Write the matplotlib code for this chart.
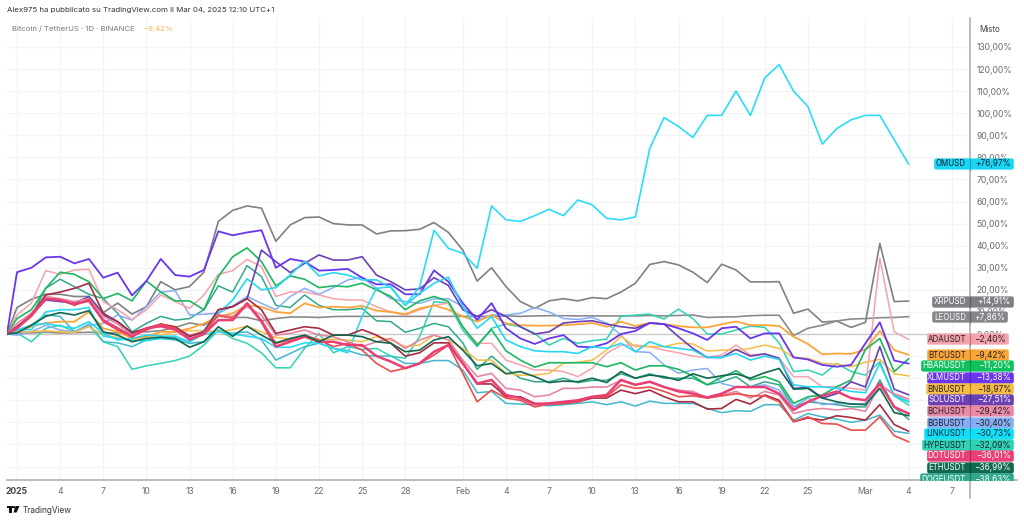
import numpy as np
import matplotlib
matplotlib.use('Agg')
import matplotlib.pyplot as plt
from matplotlib.patches import FancyBboxPatch, Rectangle, Circle, Polygon

plt.rcParams['font.family'] = ['Inter', 'DejaVu Sans']

# first point sits on the left edge of the chart, then one value per day from Jan 1
days = np.r_[-0.7, np.arange(0, 63)]

om = [0, 1.8, 2, 10, 11, 11, 12, -1, -2, -3, -3, -2, -2, -3.5, 0, 1, 0, -1, -2, -6, -6, -4, -4, -6.5,
      -8.5, 8, 20.7, 21.4, 13, 21.4, 47, 38.8, 36.6, 29.8, 58, 51.7, 51, 53.6, 56.5, 53.6, 60.7, 58.5, 52.4, 51.7,
      53, 84, 98, 94, 89, 99, 99, 110, 99, 116, 122, 110, 103, 86, 93, 97, 99, 99, 88, 76.97]
xrp = [0, 12, 15.7, 18, 18, 17, 17, 9.7, 14, 9, 12.4, 23.7, 20, 21.5, 28, 51, 56, 58, 57, 42, 49.4, 52.7, 53, 50,
       49.4, 49.4, 45.3, 46.7, 46.8, 47.4, 50.5, 46, 38, 24, 30, 21.5, 14.7, 11.6, 15, 16, 15, 16.5, 16, 19, 23, 31.5,
       32.8, 31.3, 28, 23.3, 31.6, 29, 23.6, 23.6, 23.7, 9.4, 11.3, 5.4, 5.9, 3, 5.3, 41, 14.7, 14.91]
leo = [0, 0.3, 0.5, 0.8, 0.5, 0.6, 0.8, 0.5, 0.5, 0.8, 1, 1.5, 3, 5, 4, 8, 7.5, 7.5, 6, 7, 7.7, 7.7, 7.5, 7.9,
       8, 8, 8, 8, 8, 8, 8, 8, 8, 8, 8, 8.2, 8, 8.2, 8.3, 8.3, 8.2, 8.2, 8.2, 8.2, 8.2, 8.4,
       8.2, 8.4, 8.6, 7.5, 7.7, 7.8, 8.3, 8.5, 8.5, -0.7, 2.6, 4, 5.9, 6.8, 7, 7.4, 7.5, 7.86]
ada = [0, 8.6, 14, 28.7, 27, 29, 29.3, 14.7, 11, 6.6, 11, 17.7, 14.7, 11.6, 17.7, 27, 28.7, 33.8, 30.5, 17, 19, 19, 17.7, 16,
       15.4, 15.4, 12.4, 10, 8.6, 11, 13, 14, 3.3, -4.2, -4.2, -11.8, -14, -16.3, -16.3, -17, -19.3, -15.5, -8.8, -5, -5, -5.7,
       -7.3, -8.5, -10, -10.6, -9.5, -5, -9.5, -9, -11, -19.3, -19.3, -23.9, -23.9, -24.6, -25.4, 34.3, 1, -2.4]
btc = [0, 1, 3.3, 5, 5.6, 5.6, 10, 2.5, 1, -2, -1.2, 1, 1, 2.5, 4.8, 7.9, 9.4, 13, 12.3, 10, 9.4, 13.9, 12, 12.4,
       12, 12.7, 10.6, 10, 9, 11.6, 13, 11, 8, 5.6, 8.6, 4.8, 4, 3.8, 3.8, 4, 4.4, 5, 3.3, 5.6, 3.6, 5,
       4.5, 3.6, 3, 3, 4.4, 5.7, 4, 4, 3.7, -1.2, -4.5, -9.2, -8.8, -9, -7, 1.4, -7.3, -9.42]
hbar = [0, 7, 11, 20.7, 28, 27, 23.7, 16, 18.4, 15, 24, 19, 15, 15, 11, 26, 35, 39, 32.8, 21.8, 26.3, 24.8, 21, 21.8,
        21.4, 23, 20, 17, 11, 15, 17, 14.7, 3.3, -5, 2, -7.6, -11.8, -15, -13, -13, -13, -13, -14.8, -13, -16.3, -14.4,
        -14.4, -16, -19, -23, -19.6, -16.6, -20.8, -19.3, -21.6, -31.4, -28.4, -27.6, -23.9, -20.8, -7, -2, -17, -11.2]
xlm = [0, 28, 30, 34.7, 35, 32, 34, 25.5, 27.8, 17.5, 24, 34, 26.7, 26, 29, 46.5, 44.7, 46, 47, 30, 34, 32.8, 28.7, 29,
       29.5, 25.5, 22.5, 22.5, 18, 18, 28.8, 23.7, 14, 6.5, 14, 2.6, -2, -4.5, -2, -0.5, -5.7, -6, -4.2, 0, 1.4, 5,
       4.5, 2.6, 0.3, -2.7, 2.6, 3.3, -2, 0.3, 0.3, -10.6, -11.5, -14, -14.8, -14, -4.2, 5.3, -12, -13.38]
bnb = [0, 1, 1, 1.5, 1, 0.7, 3.3, -0.5, -1.5, -2.7, -1.2, -0.5, 1, 1.5, 1.5, 1, 2, 3.6, 1, -1.5, -2.4, -1, -2.4, -2.4,
       -2.7, -3.5, -1.2, -2.7, -5.7, -5, -0.5, -2.7, -6.5, -11.8, -11.8, -17.8, -18.6, -18.6, -17.8, -13.3, -12.8, -11.8, -7.3, -1, -5.7, -5.7,
       -5.7, -4.2, -4.5, -7.7, -7.3, -7.3, -6.5, -5, -6.5, -10.6, -11, -13.3, -13.6, -14.8, -12.8, -11.5, -18, -18.97]
sol = [0, 3.3, 8.6, 15.4, 14.7, 13.9, 17, 8.6, 5.6, 0.3, 2.6, 4, 2.6, -1.2, 1, 11, 12.4, 16, 38, 32.8, 27.8, 32, 35.8, 33.5,
       33.5, 35, 26.7, 23.7, 20, 20.4, 25.5, 22, 11, 8, 11, 8, 3.3, 0, 1, 5, 5.6, 6, 4.5, 3.3, 2.6, 5,
       4.5, -1.2, -6.5, -10.6, -10.6, -7, -10, -9, -11, -24.6, -24.2, -29, -27, -21.6, -24, -5.7, -25, -27.51]
bch = [0, 4.8, 9.4, 17, 16, 14.7, 16, 8, 4.5, -0.5, 2.6, 3.3, 2, -0.5, 1, 8.6, 8, 12.4, 8.6, -0.5, 0.3, 1.8, -0.5, -1.2,
       -3.5, -5.7, -3.5, -2, -6.5, -2.7, -0.5, -2.7, -11.8, -19.3, -17.8, -24.6, -25.4, -28.4, -27.6, -24.6, -24.6, -24, -24, -21, -23, -21.6,
       -24, -25.4, -26, -29, -27.6, -26, -29, -26, -27.6, -36, -34.4, -33.7, -34.4, -33.7, -35, -23, -27, -29.42]
bgb = [0, -0.5, 1, 4, 1.8, 1, 4, 4.8, 8.6, 6.3, 12.4, 19, 19.6, 8.6, 9, 9.4, 12.7, 17, 13.9, 11, 17, 20.7, 18, 21,
       24.5, 25.7, 20.7, 16, 14.7, 13.9, 15.9, 16, 12.4, 6.3, 8.6, 8.6, 9.4, 12, 10, 7, 6.6, 7.5, 5, -0.5, -8, -8.3,
       -14, -17.8, -16.3, -15.6, -22.4, -23.9, -23.9, -23, -25.4, -33, -29, -32, -31.4, -31.7, -31.4, -23, -27.6, -30.4]
link = [0, 1.8, 4, 4.8, 3.6, 2.6, 5.6, 0.3, -2.7, -2, -0.5, -1, -1, -3.5, 1.8, 9.4, 15.4, 25, 20, 21, 26.7, 33, 26.3, 27.8,
        26.7, 24.5, 24.5, 21, 13, 18.4, 23, 25.7, 12.4, 2.6, 7.9, -2.7, -5.7, -7.6, -8, -8, -8.8, -5.7, -6.5, -4.2, -8, -3.5,
        -5.7, -6.5, -7.3, -10.6, -10.6, -8.8, -11.8, -10, -11.5, -23, -23.9, -23.9, -24.6, -26, -26.6, -13.3, -28, -30.73]
hype = [0, 0.5, -3.5, 2.6, 4, 1, 4, -3.5, -5.7, -16, -14.4, -13.3, -12, -10, -5, 1.8, -2, -4.2, -8.5, -15.3, -15.3, -6.5, 0.3, -8.5,
        -5.7, -7, -6.5, -10, -11, -1.2, 14.7, 13.9, 1.8, -5.7, 2.6, 4.5, 3.3, 0.3, -5, -2, -4.2, -3, -2.3, 8, 8.6, 9,
        6.8, 11.3, 7, 0, 0, 1.8, 3.6, 3, -4, -17, -16.3, -18.6, -13.3, -17, -18.6, -12.5, -28, -32.09]
dot = [0, 2.6, 8.6, 16, 15.4, 13.6, 15, 6.3, 2.6, -1.2, 2.6, 3.6, 2, -2.4, 0, 6.3, 6.3, 13.9, 5.6, -5.7, -3.5, -1.2, -3.5, -3.5,
       -5, -5, -10, -12.5, -15.5, -13.3, -8, -5, -13.3, -22.4, -20.8, -27.6, -29, -31.7, -31.4, -30.7, -30, -28.4, -27.6, -20.8, -23, -21.6,
       -24, -26, -27, -28.7, -27, -24, -24, -24, -27, -34.4, -30.7, -28, -26, -29, -30, -22.4, -33, -36.01]
eth = [0, 0.5, 4, 8, 9.7, 8.6, 10.6, 1, -0.5, -3.5, -2, -1.5, -2, -6, -3.5, 3.3, -1, 3.6, -0.5, -4, -2, -0.5, -3.5, -0.5,
       -0.5, -1.2, -3.5, -4.2, -8, -7.3, -2.7, -1.2, -7.3, -14.4, -13.3, -18, -17, -19.3, -22, -21.3, -21.6, -20, -22, -17, -20, -18.6,
       -19.3, -21, -18, -20, -18.9, -18, -20, -17.5, -15.6, -25, -24.6, -29, -30.7, -31.7, -32, -24.6, -35.6, -36.99]
doge = [0, 3.3, 8, 20.7, 24.8, 21.4, 18, 16, 9.4, 1, 4.8, 8, 6.3, 7, 11, 21.8, 19, 31, 26, 13, 12, 17.7, 13, 11,
        11, 11.6, 6, 5.6, 0.8, 2.6, 4.8, 3.3, -4, -16, -10, -15.5, -20, -21.6, -21.6, -20, -22, -21, -21, -18, -20, -18,
        -20, -20, -20, -23, -21.6, -19.3, -23.9, -21.6, -23, -33, -30.7, -31.4, -32, -33, -33, -20.8, -33, -38.63]
red = [0, 2.6, 8, 16, 15.4, 13, 15.7, 5.6, 1.8, -1, 1.8, 4.5, 2.6, -2.7, 0.3, 8.6, 7, 13.9, 6.3, -4.2, -2.7, -0.5, -2.7, -5.7,
       -4.2, -7.3, -13.3, -17, -15.5, -13.3, -9.5, -5, -17.8, -30.7, -25.4, -29, -30, -33, -31.7, -31.4, -30.7, -28.4, -28.4, -23, -24.6, -24,
       -26, -28.4, -28, -29, -28, -27, -28, -28, -30.7, -39.7, -37.5, -40.5, -40.8, -43.5, -43.5, -37.5, -46, -48.8]
maroon = [0, 3.3, 8.6, 17.7, 19, 20.7, 23, 9.4, 5.6, 0.6, 2.6, 4.5, 3.3, -1, 1, 11, 12.4, 16, 11, 0.3, 1.8, 3.3, 2.6, -0.5,
          -0.5, 2, -0.5, -4.2, -10, -8.5, -4, -4, -13.3, -22.6, -22.6, -28.4, -28.4, -31.4, -31.7, -31.4, -30.7, -29, -29, -25.4, -27, -25.4,
          -28.4, -30.7, -30.7, -34, -33.7, -29.6, -31.7, -27.6, -30, -39.7, -38, -39, -37, -37.8, -39, -32, -41, -44]
steel = [0, 1, 4, 8.6, 8, 1, 4.5, -3.5, -4, -5.7, -2.7, -2, -2.7, -4.2, -3.5, 1.8, 0.3, 1, -2.7, -11.8, -8.8, -5.7, -4.2, -6.5,
         -7.5, -9.5, -10, -10, -13.3, -13.3, -12, -12, -16.3, -26.6, -26, -31.4, -31.7, -32, -32.5, -32, -31.4, -30.7, -32, -30.7, -32.6, -30.4,
         -31.4, -31.4, -31.4, -33.7, -35.6, -34.7, -35, -32, -32, -39, -36, -37.5, -38.5, -40, -39, -36.7, -44, -45]

series = [
    (xrp, '#808080', 1.2), (leo, '#8a8a8a', 1.2), (steel, '#3fb8cc', 1.1), (doge, '#2fa98c', 1.1),
    (hype, '#2fd3b3', 1.1), (bgb, '#86aef5', 1.1), (ada, '#f5a3ab', 1.1), (bnb, '#f7bc45', 1.1),
    (btc, '#f9a53a', 1.3), (hbar, '#1cb761', 1.2), (sol, '#6a41b5', 1.2), (xlm, '#6a35ef', 1.3),
    (link, '#25d7f0', 1.2), (om, '#2bdcf5', 1.2), (bch, '#e586a3', 1.2), (maroon, '#a62c40', 1.2),
    (red, '#ef4b4b', 1.2), (dot, '#ea3f74', 1.8), (eth, '#10684f', 1.2),
]

tick_days = [0, 3, 6, 9, 12, 15, 18, 21, 24, 27, 31, 34, 37, 40, 43, 46, 49, 52, 55, 59, 62, 65]
tick_labels = ['2025', '4', '7', '10', '13', '16', '19', '22', '25', '28', 'Feb', '4', '7', '10', '13', '16', '19', '22', '25', 'Mar', '4', '7']
pct_ticks = list(range(-60, 140, 10))

tag_names = ['OMUSD', 'XRPUSD', 'LEOUSD', 'ADAUSDT', 'BTCUSDT', 'HBARUSDT', 'XLMUSDT', 'BNBUSDT', 'SOLUSDT',
             'BCHUSDT', 'BGBUSDT', 'LINKUSDT', 'HYPEUSDT', 'DOTUSDT', 'ETHUSDT', 'DOGEUSDT']
tag_values = ['+76,97%', '+14,91%', '+7,86%', '−2,40%', '−9,42%', '−11,20%', '−13,38%', '−18,97%', '−27,51%',
              '−29,42%', '−30,40%', '−30,73%', '−32,09%', '−36,01%', '−36,99%', '−38,63%']
tag_colors = ['#19d6f2', '#7f7f86', '#85858a', '#f5a3ab', '#f9a53a', '#0fc15c', '#6a35ef', '#f7bc45', '#6a41b5',
              '#e98aa6', '#86aef5', '#0fe0f8', '#2fd3b3', '#ea3f74', '#10684f', '#2fa98c']
tag_text = ['#123', 'w', 'w', '#222', '#222', 'w', 'w', '#222', 'w', '#222', '#222', '#123', '#123', 'w', 'w', 'w']
tag_left = [934, 932, 932, 927, 927, 921, 927, 926, 928, 927, 927, 924, 922, 927, 927, 920]
tag_right = [1014, 1014, 1008, 1009, 1009, 1014, 1014, 1014, 1014, 1014, 1014, 1014, 1014, 1014, 1014, 1014]
tag_y = [164, 302, 317, 339, 355, 366, 378, 389, 400, 411, 423, 434, 445, 456, 468, 479]

fig = plt.figure(figsize=(10.24, 5.22), dpi=100, facecolor='white')
ax = fig.add_axes([7 / 1024, 1 - 480 / 522, 963 / 1024, 462 / 522])
ax.set_xlim(-0.695, 66.27)
ax.set_ylim(-66.1, 143.1)

for values, color, lw in series:
    ax.plot(days, values, color=color, lw=lw, solid_joinstyle='round', zorder=3)

ax.axhline(0, color='#c9c9c9', lw=0.9, zorder=2)
ax.set_xticks(tick_days)
ax.set_xticklabels(tick_labels)
ax.set_yticks(pct_ticks)
ax.set_yticklabels([f'{t},00%' if t >= 0 else '' for t in pct_ticks])
ax.yaxis.tick_right()
ax.grid(True, color='#f1f3f7', lw=0.9, zorder=0)
ax.tick_params(axis='both', length=0, labelsize=6.2, labelcolor='#6a6a6a')
ax.tick_params(axis='x', pad=5)
ax.tick_params(axis='y', pad=4.5)
ax.get_xticklabels()[0].set_fontweight('bold')
ax.get_xticklabels()[0].set_color('#444444')
for side in ['top', 'left', 'right', 'bottom']:
    ax.spines[side].set_visible(False)

# page furniture and price tags, in pixel coordinates
ov = fig.add_axes([0, 0, 1, 1], facecolor='none')
ov.set_xlim(0, 1024)
ov.set_ylim(522, 0)
ov.axis('off')

ov.plot([7, 1017], [480, 480], color='#a9a9a9', lw=1.1, zorder=1)
ov.plot([970, 970], [18, 498], color='#a9a9a9', lw=1.1, zorder=1)
ov.text(7, 10, 'Alex975 ha pubblicato su TradingView.com il Mar 04, 2025 12:10 UTC+1',
        fontsize=5.65, color='#333333', va='center')
ov.text(12, 28.5, 'Bitcoin / TetherUS · 1D · BINANCE', fontsize=5.6, color='#777777', va='center')
ov.text(143, 28.5, '−9,42%', fontsize=5.6, color='#f9b45a', va='center')
ov.text(979, 29, 'Misto', fontsize=5.8, color='#444444', va='center')

# logo
ov.add_patch(Rectangle((7, 506), 5.5, 2.2, color='#111111', lw=0))
ov.add_patch(Rectangle((9.3, 506), 2.4, 6.5, color='#111111', lw=0))
ov.add_patch(Circle((14, 507.2), 1.2, color='#111111', lw=0))
ov.add_patch(Polygon([(15.6, 506), (19.5, 506), (16.6, 512.5), (13.5, 512.5)], color='#111111', lw=0))
ov.text(23, 510.5, 'TradingView', fontsize=5.9, color='#333333', va='center')

clip = Rectangle((0, 0), 1024, 480.5, transform=ov.transData)
for i, name in enumerate(tag_names):
    x0, x1, y = tag_left[i], tag_right[i], tag_y[i]
    box = FancyBboxPatch((x0 + 1, y - 4.8), x1 - x0 - 2, 9.6, boxstyle='round,pad=0,rounding_size=1.5',
                         mutation_aspect=1, fc=tag_colors[i], ec=tag_colors[i], lw=1.2, zorder=5)
    ov.add_patch(box)
    box.set_clip_path(clip)
    ov.plot([970, 970], [y - 5.5, min(y + 5.5, 480)], color='#000000', alpha=0.25, lw=0.9, zorder=6)
    t1 = ov.text(966, y, name, fontsize=5.7, color=tag_text[i], ha='right', va='center', zorder=7)
    t2 = ov.text(x1 - 3, y, tag_values[i], fontsize=6, color=tag_text[i], ha='right', va='center', zorder=7)
    t1.set_clip_path(clip)
    t2.set_clip_path(clip)

fig.savefig('out.png', dpi=100, facecolor='white')
